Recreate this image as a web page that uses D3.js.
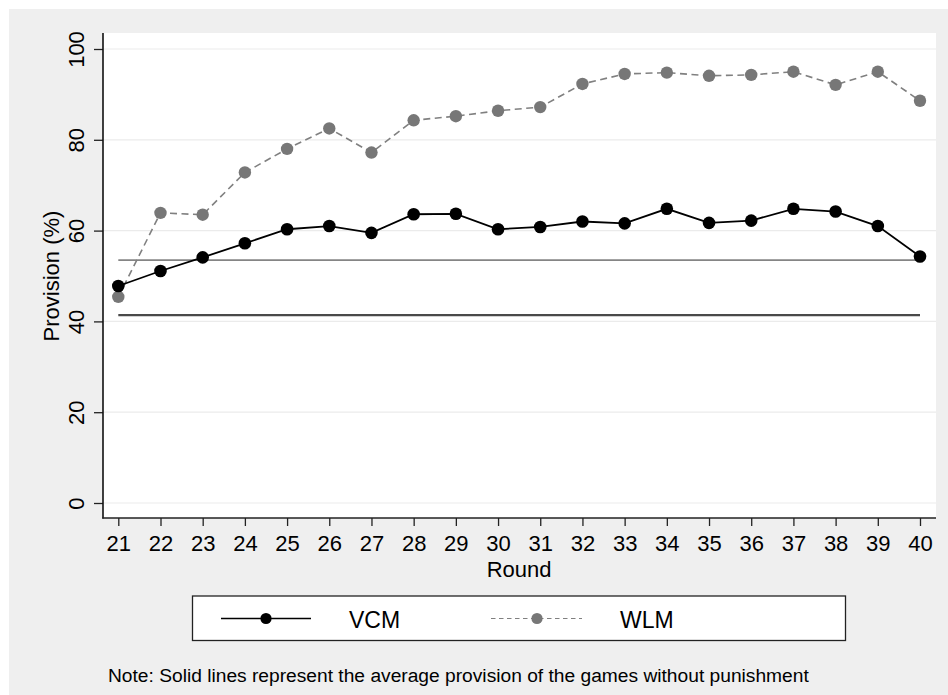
<!DOCTYPE html>
<html>
<head>
<meta charset="utf-8">
<script src="https://cdn.jsdelivr.net/npm/d3@7"></script>
<style>
  html, body { margin: 0; padding: 0; background: #ffffff; }
  svg { display: block; font-family: "Liberation Sans", Arial, Helvetica, sans-serif; }
</style>
</head>
<body>
<svg id="chart" width="948" height="695"></svg>
<script>
// ---- data ----
const rounds = [21,22,23,24,25,26,27,28,29,30,31,32,33,34,35,36,37,38,39,40];
const vcm = [47.8,51.1,54.1,57.2,60.3,61.0,59.5,63.6,63.7,60.3,60.8,62.0,61.6,64.8,61.7,62.2,64.8,64.2,61.0,54.3];
const wlm = [45.4,63.9,63.5,72.8,78.0,82.5,77.2,84.3,85.2,86.4,87.2,92.3,94.5,94.8,94.1,94.3,95.0,92.1,95.0,88.6];
const refNames = ["VCM", "WLM"];
const refValues = [41.4, 53.5];
const yTicks = [0, 20, 40, 60, 80, 100];
const seriesNames = ["VCM", "WLM"];
const xTitle = "Round";
const yTitle = "Provision (%)";
const note = "Note: Solid lines represent the average provision of the games without punishment";

// ---- layout ----
const svg = d3.select("#chart");
const W = 948, H = 695;
const plot = { left: 103, right: 936, top: 33, bottom: 518 };

svg.append("rect").attr("x", 9).attr("y", 9).attr("width", W - 9).attr("height", H - 9).attr("fill", "#efefef");
svg.append("rect").attr("x", plot.left).attr("y", plot.top)
  .attr("width", plot.right - plot.left).attr("height", plot.bottom - plot.top).attr("fill", "#ffffff");

const x = d3.scaleLinear().domain([21, 40]).range([118.3, 920]);
const y = d3.scaleLinear().domain([0, 100]).range([503, 49]);

// gridlines
svg.append("g").selectAll("line").data(yTicks).join("line")
  .attr("x1", plot.left).attr("x2", plot.right)
  .attr("y1", d => y(d)).attr("y2", d => y(d))
  .attr("stroke", "#ebebeb").attr("stroke-width", 1.2);

// reference lines
const refStyle = [{ c: "#4a4a4a", w: 2.2 }, { c: "#858585", w: 1.6 }];
svg.append("g").selectAll("line").data(refValues).join("line")
  .attr("x1", x(21)).attr("x2", x(40))
  .attr("y1", d => y(d)).attr("y2", d => y(d))
  .attr("stroke", (d, i) => refStyle[i].c).attr("stroke-width", (d, i) => refStyle[i].w);

// y axis
const yAxis = d3.axisLeft(y).tickValues(yTicks).tickSize(9).tickFormat(d3.format("d"));
const gy = svg.append("g").attr("transform", `translate(${plot.left},0)`).call(yAxis);
gy.select(".domain").remove();
gy.selectAll(".tick line").attr("stroke", "#222").attr("stroke-width", 1.3);
gy.selectAll(".tick text").remove();
gy.selectAll(".tick").append("text")
  .attr("transform", "translate(-19,0) rotate(-90)")
  .attr("text-anchor", "middle").attr("fill", "#000")
  .style("font-size", "22px").text(d => d);
svg.append("line").attr("x1", plot.left).attr("x2", plot.left)
  .attr("y1", plot.top).attr("y2", plot.bottom + 0.5)
  .attr("stroke", "#111").attr("stroke-width", 1.6);

// x axis
const xAxis = d3.axisBottom(x).tickValues(rounds).tickSize(8).tickPadding(9.5).tickFormat(d3.format("d"));
const gx = svg.append("g").attr("transform", `translate(0,${plot.bottom})`).call(xAxis);
gx.select(".domain").remove();
gx.selectAll(".tick line").attr("stroke", "#222").attr("stroke-width", 1.3);
gx.selectAll(".tick text").attr("fill", "#000").style("font-size", "22px").attr("dy", "0.71em");
svg.append("line").attr("x1", plot.left - 0.8).attr("x2", plot.right)
  .attr("y1", plot.bottom).attr("y2", plot.bottom)
  .attr("stroke", "#222").attr("stroke-width", 1.6);

// axis titles
svg.append("text").attr("x", (x(21) + x(40)) / 2).attr("y", 577)
  .attr("text-anchor", "middle").style("font-size", "22px").text(xTitle);
svg.append("text").attr("transform", `translate(59,${(y(0) + y(100)) / 2}) rotate(-90)`)
  .attr("text-anchor", "middle").style("font-size", "22px").text(yTitle);

// series
const line = d3.line().x((d, i) => x(rounds[i])).y(d => y(d));
svg.append("path").datum(wlm).attr("d", line).attr("fill", "none")
  .attr("stroke", "#808080").attr("stroke-width", 1.6).attr("stroke-dasharray", "7,4.5");
svg.append("g").selectAll("circle").data(wlm).join("circle")
  .attr("cx", (d, i) => x(rounds[i])).attr("cy", d => y(d)).attr("r", 6.2).attr("fill", "#777777");
svg.append("path").datum(vcm).attr("d", line).attr("fill", "none")
  .attr("stroke", "#000").attr("stroke-width", 1.8);
svg.append("g").selectAll("circle").data(vcm).join("circle")
  .attr("cx", (d, i) => x(rounds[i])).attr("cy", d => y(d)).attr("r", 6.3).attr("fill", "#000");

// legend
const lg = svg.append("g");
lg.append("rect").attr("x", 192.5).attr("y", 596).attr("width", 653).attr("height", 44.5)
  .attr("fill", "#fff").attr("stroke", "#222").attr("stroke-width", 1.3);
const legItems = [
  { name: seriesNames[0], x1: 221, x2: 311, mx: 266, tx: 349, color: "#000", mcolor: "#000", dash: null, w: 1.6 },
  { name: seriesNames[1], x1: 491, x2: 582, mx: 537, tx: 620, color: "#808080", mcolor: "#777", dash: "4.5,3.5", w: 1.2 }
];
const ly = 618.5;
legItems.forEach(it => {
  lg.append("line").attr("x1", it.x1).attr("x2", it.x2).attr("y1", ly).attr("y2", ly)
    .attr("stroke", it.color).attr("stroke-width", it.w).attr("stroke-dasharray", it.dash);
  lg.append("circle").attr("cx", it.mx).attr("cy", ly).attr("r", 5.6).attr("fill", it.mcolor);
  lg.append("text").attr("x", it.tx).attr("y", 627.5).style("font-size", "23px").text(it.name);
});

// note
svg.append("text").attr("x", 108).attr("y", 681.5).style("font-size", "19.2px").text(note);
</script>
</body>
</html>
